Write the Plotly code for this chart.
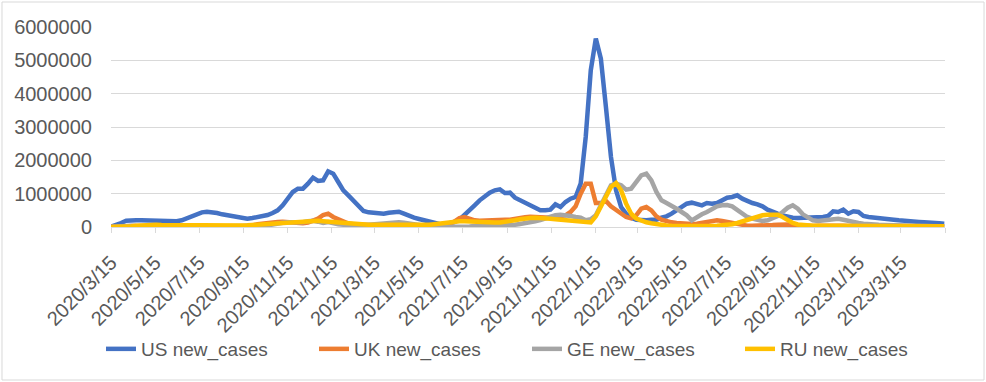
import pandas as pd
import plotly.graph_objects as go

# Weekly new cases (thousands), weeks starting 2020-03-15
US = [10, 50, 120, 190, 210, 205, 200, 195, 190, 180,
      170, 160, 160, 170, 200, 260, 330, 380, 440, 460,
      450, 420, 380, 350, 310, 290, 280, 250, 270, 300,
      320, 360, 420, 500, 650, 850, 1050, 1150, 1150, 1300,
      1480, 1380, 1400, 1670, 1600, 1350, 1100, 950, 780, 600,
      480, 440, 420, 390, 400, 430, 460, 460, 400, 330,
      280, 240, 200, 160, 120, 90, 80, 100, 150, 220,
      350, 500, 650, 800, 930, 1030, 1100, 1130, 1020, 1030,
      880, 800, 720, 630, 560, 500, 500, 520, 680, 600,
      750, 850, 900, 1300, 2700, 4700, 5650, 5050, 3600, 2100,
      1100, 600, 400, 280, 220, 200, 200, 220, 220, 280,
      320, 400, 500, 600, 700, 730, 700, 650, 720, 700,
      720, 800, 880, 900, 950, 850, 780, 720, 680, 620,
      520, 450, 400, 350, 300, 280, 270, 270, 280, 290,
      300, 300, 330, 470, 450, 520, 400, 470, 450, 330,
      300, 290, 280, 270, 250, 220, 200, 180, 180, 160,
      150, 140, 120, 120, 110, 100]

UK = [5, 15, 30, 35, 35, 33, 30, 28, 25, 20,
      17, 14, 10, 8, 6, 5, 4, 4, 4, 5,
      5, 6, 7, 8, 10, 15, 22, 30, 45, 80,
      105, 115, 140, 150, 160, 150, 120, 100, 110, 130,
      190, 250, 360, 400, 300, 230, 150, 100, 80, 70,
      50, 40, 38, 35, 30, 22, 18, 16, 15, 15,
      16, 17, 20, 25, 35, 50, 65, 100, 160, 270,
      300, 250, 200, 190, 200, 210, 230, 235, 220, 215,
      230, 260, 290, 310, 300, 280, 270, 280, 310, 330,
      350, 450, 620, 1000, 1300, 1300, 720, 720, 780, 620,
      500, 380, 300, 260, 350, 550, 600, 500, 320, 220,
      170, 140, 120, 100, 80, 90, 100, 120, 150, 180,
      200, 180, 150, 100, 70, 50, 40, 35, 35, 40,
      50, 60, 70, 80, 75, 60, 45, 35, 30, 30,
      35, 40, 50, 55, 45, 35, 30, 25, 25, 30,
      35, 40, 45, 40, 35, 30, 30, 28, 25, 22,
      20, 18, 15, 12, 10, 10]

GE = [8, 20, 35, 40, 38, 30, 22, 15, 10, 8,
      6, 5, 4, 3, 4, 3, 3, 3, 3, 4,
      5, 6, 8, 9, 9, 9, 9, 11, 13, 16,
      25, 45, 75, 110, 130, 145, 145, 130, 140, 170,
      190, 160, 120, 150, 110, 85, 70, 60, 55, 55,
      60, 70, 85, 105, 100, 120, 140, 140, 130, 105,
      75, 45, 25, 15, 9, 6, 5, 5, 6, 8,
      12, 18, 30, 45, 55, 65, 65, 55, 55, 60,
      70, 90, 110, 140, 170, 210, 260, 310, 350, 370,
      360, 330, 300, 280, 200, 230, 350, 620, 950, 1250,
      1300, 1250, 1120, 1150, 1350, 1550, 1600, 1400, 1050, 800,
      720, 650, 550, 450, 350, 200, 300, 380, 450, 550,
      620, 650, 660, 620, 500, 380, 300, 250, 200, 180,
      200, 250, 330, 450, 580, 650, 550, 380, 280, 200,
      180, 190, 200, 220, 250, 220, 180, 150, 120, 100,
      80, 70, 65, 60, 55, 50, 45, 42, 40, 35,
      30, 28, 25, 22, 20, 18]

RU = [0, 1, 3, 10, 25, 40, 55, 65, 70, 68,
      63, 60, 58, 55, 50, 46, 45, 42, 39, 37,
      35, 35, 34, 35, 37, 40, 44, 50, 60, 75,
      90, 105, 115, 125, 140, 155, 165, 175, 185, 190,
      195, 190, 175, 160, 150, 135, 115, 100, 90, 80,
      75, 68, 65, 63, 62, 60, 60, 58, 58, 58,
      60, 62, 62, 65, 80, 100, 130, 150, 165, 170,
      170, 160, 155, 150, 145, 140, 135, 135, 150, 170,
      200, 230, 260, 270, 280, 280, 265, 250, 235, 225,
      210, 195, 180, 165, 150, 135, 320, 600, 850, 1200,
      1320, 1100, 700, 400, 250, 180, 140, 110, 80, 60,
      45, 35, 30, 25, 22, 20, 20, 22, 25, 28,
      35, 45, 60, 85, 120, 170, 230, 280, 320, 350,
      370, 380, 370, 300, 200, 120, 75, 55, 45, 40,
      38, 38, 40, 42, 45, 45, 42, 40, 38, 40,
      45, 50, 50, 48, 45, 40, 38, 35, 33, 30,
      30, 30, 28, 27, 26, 25]

series_names = ["US new_cases", "UK new_cases", "GE new_cases", "RU new_cases"]
series_colors = ["#4472C4", "#ED7D31", "#A5A5A5", "#FFC000"]

tick_dates = ["2020-03-15", "2020-05-15", "2020-07-15", "2020-09-15", "2020-11-15",
              "2021-01-15", "2021-03-15", "2021-05-15", "2021-07-15", "2021-09-15",
              "2021-11-15", "2022-01-15", "2022-03-15", "2022-05-15", "2022-07-15",
              "2022-09-15", "2022-11-15", "2023-01-15", "2023-03-15", "2023-05-15"]
tick_labels = ["2020/3/15", "2020/5/15", "2020/7/15", "2020/9/15", "2020/11/15",
               "2021/1/15", "2021/3/15", "2021/5/15", "2021/7/15", "2021/9/15",
               "2021/11/15", "2022/1/15", "2022/3/15", "2022/5/15", "2022/7/15",
               "2022/9/15", "2022/11/15", "2023/1/15", "2023/3/15", ""]

dates = pd.date_range("2020-03-15", periods=len(US), freq="7D")

fig = go.Figure()
for name, vals, col in zip(series_names, [US, UK, GE, RU], series_colors):
    fig.add_trace(go.Scatter(x=dates, y=[v * 1000 for v in vals], mode="lines",
                             name=name, line=dict(color=col, width=4.5)))

fig.update_layout(
    width=986, height=382,
    margin=dict(l=111, r=41, t=27, b=155, autoexpand=False),
    paper_bgcolor="white", plot_bgcolor="white",
    font=dict(family="Liberation Sans", size=20, color="#595959"),
    showlegend=True,
    legend=dict(orientation="h", x=-0.012, xanchor="left", y=-0.61, yanchor="middle",
                entrywidth=168, entrywidthmode="pixels", font=dict(size=19, color="#595959"),
                bgcolor="rgba(0,0,0,0)"),
    shapes=[dict(type="rect", xref="paper", yref="paper",
                 x0=-0.1307, x1=1.0468, y0=-0.765, y1=1.125,
                 line=dict(color="#D9D9D9", width=1), layer="below")],
)
fig.update_xaxes(type="date", range=["2020-03-15", "2023-05-15"], automargin=False,
                 tickvals=tick_dates, ticktext=tick_labels, tickangle=-45,
                 showgrid=False, showline=True, linecolor="#D9D9D9", linewidth=1,
                 ticks="outside", ticklen=5, tickcolor="#D9D9D9",
                 ticklabelstandoff=10, tickfont=dict(size=20, color="#595959"))
fig.update_yaxes(range=[0, 6000000], dtick=1000000, tickformat="d", automargin=False,
                 showgrid=True, gridcolor="#D9D9D9", gridwidth=1, zeroline=False,
                 showline=False, ticks="", ticklabelstandoff=18,
                 tickfont=dict(size=20, color="#595959"))

fig.write_html("out.html", config={"displayModeBar": False},
               post_script="document.body.style.margin='0';document.body.style.overflow='hidden';")
